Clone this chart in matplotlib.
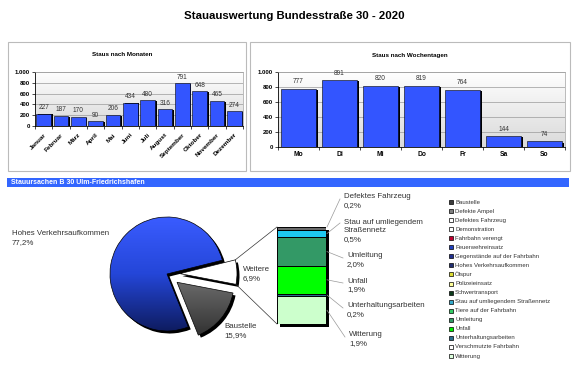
import numpy as np
import matplotlib
matplotlib.use('Agg')
import matplotlib.pyplot as plt
from matplotlib.colors import LinearSegmentedColormap
from matplotlib.patches import Rectangle

plt.rcParams['font.family'] = ['Liberation Sans', 'DejaVu Sans']

W, H = 578, 369

title = "Stauauswertung Bundesstraße 30 - 2020"
month_title = "Staus nach Monaten"
weekday_title = "Staus nach Wochentagen"
header_text = "Stauursachen B 30 Ulm-Friedrichshafen"

months = ["Januar", "Februar", "März", "April", "Mai", "Juni", "Juli",
          "August", "September", "Oktober", "November", "Dezember"]
month_values = [227, 187, 170, 90, 206, 434, 480, 316, 791, 648, 465, 274]

weekdays = ["Mo", "Di", "Mi", "Do", "Fr", "Sa", "So"]
weekday_values = [777, 891, 820, 819, 764, 144, 74]

yticks = [0, 200, 400, 600, 800, 1000]
ytick_labels = ["0", "200", "400", "600", "800", "1.000"]

pie_labels = ["Hohes Verkehrsaufkommen", "Baustelle", "Weitere"]
pie_values = [77.2, 15.9, 6.9]
pie_pct = ["77,2%", "15,9%", "6,9%"]

# stacked detail bar, bottom to top
detail_labels = ["Witterung", "Unterhaltungsarbeiten", "Unfall", "Umleitung",
                 "Stau auf umliegendem\nStraßennetz", "Defektes Fahrzeug"]
detail_values = [1.9, 0.2, 1.9, 2.0, 0.5, 0.2]
detail_pct = ["1,9%", "0,2%", "1,9%", "2,0%", "0,5%", "0,2%"]
detail_colors = ['#CCFFCC', '#2A6E8E', '#00FF00', '#339966', '#1EC8F0', '#6A6A6A']

legend_labels = ["Baustelle", "Defekte Ampel", "Defektes Fahrzeug", "Demonstration",
                 "Fahrbahn verengt", "Feuerwehreinsatz", "Gegenstände auf der Fahrbahn",
                 "Hohes Verkehrsaufkommen", "Ölspur", "Polizeieinsatz", "Schwertransport",
                 "Stau auf umliegendem Straßennetz", "Tiere auf der Fahrbahn", "Umleitung",
                 "Unfall", "Unterhaltungsarbeiten", "Verschmutzte Fahrbahn", "Witterung"]
legend_colors = ['#3C3C3C', '#808080', '#FFFFFF', '#FFFFFF', '#C00030', '#2040C0',
                 '#203090', '#202E70', '#DDDD33', '#FFFF99', '#0A3A1A', '#33AACC',
                 '#33CC66', '#339966', '#00EE00', '#2A6E8E', '#FFFFFF', '#DDFFDD']


def Y(py):
    return H - py


def fr(x0, y0, x1, y1):
    return [x0 / W, 1 - y1 / H, (x1 - x0) / W, (y1 - y0) / H]


fig = plt.figure(figsize=(W / 100, H / 100), dpi=100)
ov = fig.add_axes([0, 0, 1, 1])
ov.set_xlim(0, W)
ov.set_ylim(0, H)
ov.axis('off')

# title & panel frames
ov.text(294, Y(16), title, fontsize=8.2, fontweight='bold', ha='center', va='center', color='black')
ov.add_patch(Rectangle((8, Y(171)), 238, 129, fill=False, edgecolor='#BBBBBB', lw=0.8))
ov.add_patch(Rectangle((250, Y(171)), 320, 129, fill=False, edgecolor='#BBBBBB', lw=0.8))
ov.text(122, Y(55), month_title, fontsize=4.5, fontweight='bold', ha='center', va='center')
ov.text(410, Y(55), weekday_title, fontsize=4.5, fontweight='bold', ha='center', va='center')

# header bar
ov.add_patch(Rectangle((7, Y(187)), 562, 9, facecolor='#3366FF', edgecolor='none'))
ov.text(11, Y(182.5), header_text, fontsize=5, fontweight='bold', color='white', ha='left', va='center')

bg_cmap = LinearSegmentedColormap.from_list('bg', ['#DADADA', '#FFFFFF'])
grad = np.linspace(0, 1, 256).reshape(-1, 1)


def bar_panel(rect, cats, vals, rot, shadow_dx, lab_fs):
    ax = fig.add_axes(rect)
    x = np.arange(len(cats))
    n = len(cats)
    ax.imshow(grad, extent=[-0.5, n - 0.5, 0, 1000], origin='lower', aspect='auto',
              cmap=bg_cmap, zorder=0)
    ax.bar(x + shadow_dx, np.array(vals) - 14, width=0.85, color='black', zorder=2)
    ax.bar(x, vals, width=0.85, color='#3355FF', edgecolor='black', lw=0.4, zorder=3)
    for xi, v in zip(x, vals):
        ax.text(xi, v + 45, str(v), ha='center', va='bottom', fontsize=4.7,
                color='#333333', clip_on=False, zorder=4)
    ax.set_xlim(-0.5, n - 0.5)
    ax.set_ylim(0, 1000)
    ax.set_yticks(yticks)
    ax.set_yticklabels(ytick_labels, fontsize=4.3, fontweight='bold')
    ax.set_xticks(x)
    if rot:
        ax.set_xticklabels(cats, rotation=45, ha='right', rotation_mode='anchor',
                           fontsize=lab_fs, fontweight='bold')
        ax.tick_params(axis='x', which='major', length=0, pad=4.5)
    else:
        ax.set_xticklabels(cats, fontsize=lab_fs, fontweight='bold')
        ax.tick_params(axis='x', which='major', length=0, pad=3)
    ax.set_xticks(np.arange(-0.5, n, 1), minor=True)
    ax.tick_params(axis='x', which='minor', length=2, width=0.5)
    ax.tick_params(axis='y', length=2, width=0.5, pad=1.5)
    ax.yaxis.grid(True, color='#999999', lw=0.5, zorder=1)
    ax.set_axisbelow(True)
    for s in ['top', 'right']:
        ax.spines[s].set_color('#A0A0A0')
        ax.spines[s].set_linewidth(0.5)
    for s in ['left', 'bottom']:
        ax.spines[s].set_color('black')
        ax.spines[s].set_linewidth(0.6)
    return ax


ax1 = bar_panel(fr(35, 72, 243, 126), months, month_values, True, 0.1, 4.6)
ax2 = bar_panel(fr(278, 72, 565, 147), weekdays, weekday_values, False, 0.06, 4.8)

# pie
cx, cy, r = 167, Y(274), 57
explode = [0, 13, 13]
ov.pie(pie_values, explode=explode, startangle=14, center=(cx + 2.5, cy - 2.5), radius=r,
       colors=['black'] * 3, wedgeprops=dict(lw=0, zorder=1))
wedges, _ = ov.pie(pie_values, explode=explode, startangle=14, center=(cx, cy), radius=r,
                   colors=['#2446D8', '#707070', 'white'],
                   wedgeprops=dict(edgecolor='black', lw=0.5, zorder=3))
blue_cmap = LinearSegmentedColormap.from_list('bl', ['#0E1C60', '#2446D8', '#3A5CFF'])
gray_cmap = LinearSegmentedColormap.from_list('gr', ['#2E2E2E', '#6A6A6A', '#B0B0B0'])
for w, cm in [(wedges[0], blue_cmap), (wedges[1], gray_cmap)]:
    wc = w.center
    im = ov.imshow(grad, extent=[wc[0] - r, wc[0] + r, wc[1] - r, wc[1] + r],
                   origin='lower', aspect='auto', cmap=cm, zorder=2)
    im.set_clip_path(w)
    w.set_facecolor('none')
ov.set_xlim(0, W)
ov.set_ylim(0, H)
ov.set_aspect('auto')
ov.axis('off')

ov.text(12, Y(238), pie_labels[0] + "\n" + pie_pct[0], fontsize=5.7, color='#333333',
        ha='left', va='center', linespacing=1.25)
ov.text(224, Y(331), pie_labels[1] + "\n" + pie_pct[1], fontsize=5.7, color='#333333',
        ha='left', va='center', linespacing=1.25)
ov.text(243, Y(274), pie_labels[2] + "\n" + pie_pct[2], fontsize=5.7, color='#333333',
        ha='left', va='center', linespacing=1.25)

# stacked detail bar
bx0, by0, bx1, by1 = 277, 227, 326, 324
ov.add_patch(Rectangle((bx0 + 2.5, Y(by1 + 2.5)), bx1 - bx0, by1 - by0,
                       facecolor='black', edgecolor='none', zorder=1))
axb = fig.add_axes(fr(bx0, by0, bx1, by1))
axb.patch.set_alpha(0)
bottoms = np.concatenate([[0], np.cumsum(detail_values)[:-1]])
axb.bar([0.5] * len(detail_values), detail_values, bottom=bottoms, width=1.0,
        color=detail_colors, edgecolor='black', lw=0.7)
axb.set_xlim(0, 1)
axb.set_ylim(0, sum(detail_values))
axb.axis('off')

# connector lines from Weitere wedge to bar
ww = wedges[2]
wcx, wcy = ww.center
p_top = (wcx + ww.r * np.cos(np.radians(ww.theta2)), wcy + ww.r * np.sin(np.radians(ww.theta2)))
p_bot = (wcx + ww.r * np.cos(np.radians(ww.theta1)), wcy + ww.r * np.sin(np.radians(ww.theta1)))
ov.plot([p_top[0], bx0], [p_top[1], Y(by0)], color='#333333', lw=0.5, zorder=2)
ov.plot([p_bot[0], bx0], [p_bot[1], Y(by1)], color='#333333', lw=0.5, zorder=2)

# detail labels (bottom to top order matches data)
label_pos = [(349, 339), (347, 310), (347, 285.5), (347, 260), (344, 231), (344, 201)]
first_line = [334, 305, 280, 255, 220, 196]
for i, (lab, pct) in enumerate(zip(detail_labels, detail_pct)):
    mid = bottoms[i] + detail_values[i] / 2
    if i == len(detail_values) - 1:
        mid = bottoms[i] + detail_values[i]
    dx, dy = axb.transData.transform((1.0, mid))
    lx, ly = label_pos[i]
    ov.plot([dx + 1, lx - 4], [dy, Y(first_line[i] + 3)], color='#999999', lw=0.5, zorder=2)
    ov.text(lx, Y(ly), lab + "\n" + pct, fontsize=5.7, color='#333333', ha='left',
            va='center', linespacing=1.25)

# legend
for i, (lab, c) in enumerate(zip(legend_labels, legend_colors)):
    yy = 202 + 9.06 * i
    ov.add_patch(Rectangle((449, Y(yy) - 2), 4, 4, facecolor=c, edgecolor='black', lw=0.5))
    ov.text(455, Y(yy), lab, fontsize=4.3, color='#333333', ha='left', va='center')

fig.savefig('out.png', dpi=100)
